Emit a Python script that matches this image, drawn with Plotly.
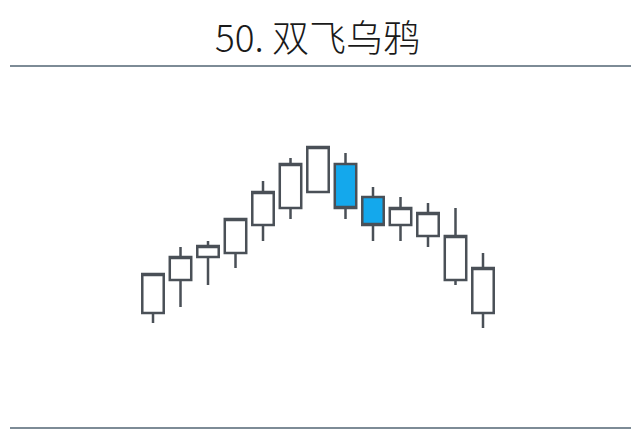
import plotly.graph_objects as go

# candle index and prices (arbitrary units)
days = list(range(13))
open_ = [27, 60, 83, 87, 115, 132, 148, 176, 143, 115, 104, 60, 27]
high = [66, 93, 99, 121, 159, 182, 193, 187, 153, 143, 137, 132, 87]
low = [17, 33, 55, 72, 99, 121, 148, 121, 99, 99, 93, 55, 12]
close = [66, 83, 94, 121, 148, 176, 193, 132, 115, 132, 127, 104, 72]

title_text = "50. 双飞乌鸦"

edge = "#4a5057"
blue = "#14a8ec"
rule = "#7d8b96"

# page body has an 8px margin, so the figure is a bit smaller than the window
W, H = 632, 427

fig = go.Figure()

fig.add_trace(go.Candlestick(
    x=days,
    open=open_,
    high=high,
    low=low,
    close=close,
    increasing=dict(fillcolor="white", line=dict(color=edge, width=2.5)),
    decreasing=dict(fillcolor=blue, line=dict(color=edge, width=2.5)),
    whiskerwidth=0,
    hoverinfo="skip",
    showlegend=False,
))

# the two grey rules above and below the chart
for py in (58, 420):
    fig.add_shape(type="line", xref="paper", yref="paper",
                  x0=2 / W, x1=623 / W, y0=1 - py / H, y1=1 - py / H,
                  line=dict(color=rule, width=2))

# title as a top-anchored annotation so it stays inside the figure
fig.add_annotation(
    text=title_text,
    xref="paper", yref="paper",
    x=309 / W, y=1,
    xanchor="center", yanchor="top",
    showarrow=False,
    borderpad=0,
    font=dict(family="Noto Sans CJK SC", size=37, color="#1a1a1a", weight=300),
)

fig.update_layout(
    width=W,
    height=H,
    margin=dict(l=0, r=0, t=0, b=0),
    paper_bgcolor="white",
    plot_bgcolor="white",
    boxgap=0.22,
    boxgroupgap=0,
    xaxis=dict(range=[-5.273, 17.709], visible=False, rangeslider=dict(visible=False)),
    yaxis=dict(range=[-95, 332], visible=False),
)

fig.write_html("out.html")
